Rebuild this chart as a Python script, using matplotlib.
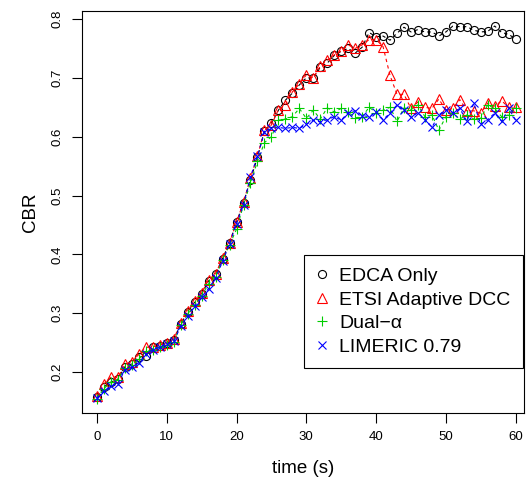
import numpy as np
import matplotlib
matplotlib.use('Agg')
import matplotlib.pyplot as plt
from matplotlib.lines import Line2D

plt.rcParams['font.family'] = ['Liberation Sans', 'DejaVu Sans']

# time axis (s)
time_s = np.arange(0, 61)

edca_only = [0.158, 0.175, 0.183, 0.188, 0.209, 0.214, 0.225, 0.228, 0.242, 0.245,
             0.249, 0.255, 0.282, 0.302, 0.319, 0.333, 0.355, 0.366, 0.393, 0.420,
             0.455, 0.488, 0.527, 0.565, 0.610, 0.623, 0.645, 0.662, 0.674, 0.688,
             0.700, 0.700, 0.718, 0.725, 0.738, 0.745, 0.750, 0.742, 0.752, 0.777,
             0.770, 0.771, 0.764, 0.776, 0.786, 0.778, 0.782, 0.778, 0.778, 0.771,
             0.778, 0.788, 0.787, 0.787, 0.781, 0.778, 0.779, 0.788, 0.777, 0.774,
             0.766]

etsi_dcc = [0.160, 0.180, 0.192, 0.191, 0.213, 0.218, 0.230, 0.242, 0.243, 0.246,
            0.250, 0.256, 0.284, 0.304, 0.320, 0.335, 0.357, 0.367, 0.394, 0.420,
            0.455, 0.489, 0.530, 0.567, 0.611, 0.620, 0.646, 0.654, 0.676, 0.690,
            0.705, 0.700, 0.720, 0.730, 0.739, 0.746, 0.756, 0.750, 0.756, 0.765,
            0.765, 0.753, 0.704, 0.672, 0.672, 0.648, 0.659, 0.650, 0.648, 0.664,
            0.645, 0.648, 0.663, 0.644, 0.644, 0.640, 0.657, 0.652, 0.661, 0.650,
            0.650]

dual_alpha = [0.155, 0.172, 0.183, 0.187, 0.207, 0.212, 0.222, 0.236, 0.238, 0.242,
              0.246, 0.251, 0.280, 0.298, 0.314, 0.330, 0.350, 0.362, 0.390, 0.416,
              0.443, 0.484, 0.522, 0.558, 0.590, 0.600, 0.628, 0.630, 0.634, 0.648,
              0.631, 0.645, 0.630, 0.649, 0.642, 0.648, 0.642, 0.632, 0.634, 0.650,
              0.641, 0.645, 0.650, 0.626, 0.649, 0.646, 0.654, 0.634, 0.637, 0.611,
              0.634, 0.640, 0.630, 0.637, 0.630, 0.631, 0.654, 0.648, 0.634, 0.637,
              0.648]

limeric = [0.156, 0.168, 0.176, 0.180, 0.204, 0.208, 0.216, 0.230, 0.238, 0.242,
           0.247, 0.252, 0.278, 0.296, 0.312, 0.328, 0.342, 0.360, 0.388, 0.418,
           0.452, 0.484, 0.532, 0.567, 0.608, 0.614, 0.616, 0.614, 0.616, 0.614,
           0.621, 0.628, 0.625, 0.629, 0.634, 0.628, 0.641, 0.644, 0.636, 0.634,
           0.642, 0.629, 0.640, 0.654, 0.646, 0.633, 0.641, 0.629, 0.616, 0.637,
           0.646, 0.641, 0.648, 0.626, 0.657, 0.621, 0.629, 0.640, 0.626, 0.648,
           0.628]

series_labels = ['EDCA Only', 'ETSI Adaptive DCC', 'Dual\u2212\u03b1', 'LIMERIC 0.79']

# R-like styles: pch 1..4, colours black/red/green3/blue
styles = [
    dict(marker='o', color='black', ms=5.8),
    dict(marker='^', color='#FF0000', ms=7.0),
    dict(marker='+', color='#00CD00', ms=7.8),
    dict(marker='x', color='#0000FF', ms=5.9),
]

fig = plt.figure(figsize=(5.31, 4.78), dpi=100)
ax = fig.add_axes([82 / 531, 1 - 413 / 478, (524 - 82) / 531, (413 - 11) / 478])

all_series = [edca_only, etsi_dcc, dual_alpha, limeric]
for vals, st in zip(all_series, styles):
    ax.plot(time_s, vals, color=st['color'], linestyle=(0, (3, 3)), linewidth=0.8)
    ax.plot(time_s, vals, linestyle='none', marker=st['marker'], ms=st['ms'],
            markerfacecolor='none', markeredgecolor=st['color'], markeredgewidth=0.8)

ax.set_xlim(-2.15, 61.2)
ax.set_ylim(0.1305, 0.8136)
ax.set_xticks(np.arange(0, 61, 10))
ax.set_yticks(np.arange(0.2, 0.81, 0.1))
ax.set_yticklabels(['0.2', '0.3', '0.4', '0.5', '0.6', '0.7', '0.8'], rotation=90, va='center')
ax.tick_params(direction='out', length=7, width=0.8, labelsize=9.5, pad=6)
for sp in ax.spines.values():
    sp.set_linewidth(0.8)

ax.set_xlabel('time (s)', fontsize=13.5, labelpad=12)
ax.set_ylabel('CBR', fontsize=13.5, labelpad=9)

handles = [Line2D([0], [0], linestyle='none', marker=st['marker'], ms=st['ms'],
                  markerfacecolor='none', markeredgecolor=st['color'], markeredgewidth=0.8,
                  label=lab) for st, lab in zip(styles, series_labels)]
leg = ax.legend(handles=handles, loc='upper right', bbox_to_anchor=(0.998, 0.393),
                fontsize=14, frameon=True, fancybox=False, framealpha=1,
                edgecolor='black', borderpad=0.65, labelspacing=0.3,
                handlelength=0.5, handletextpad=0.65, borderaxespad=0)
leg.get_frame().set_linewidth(0.8)

fig.savefig('out.png', dpi=100)
